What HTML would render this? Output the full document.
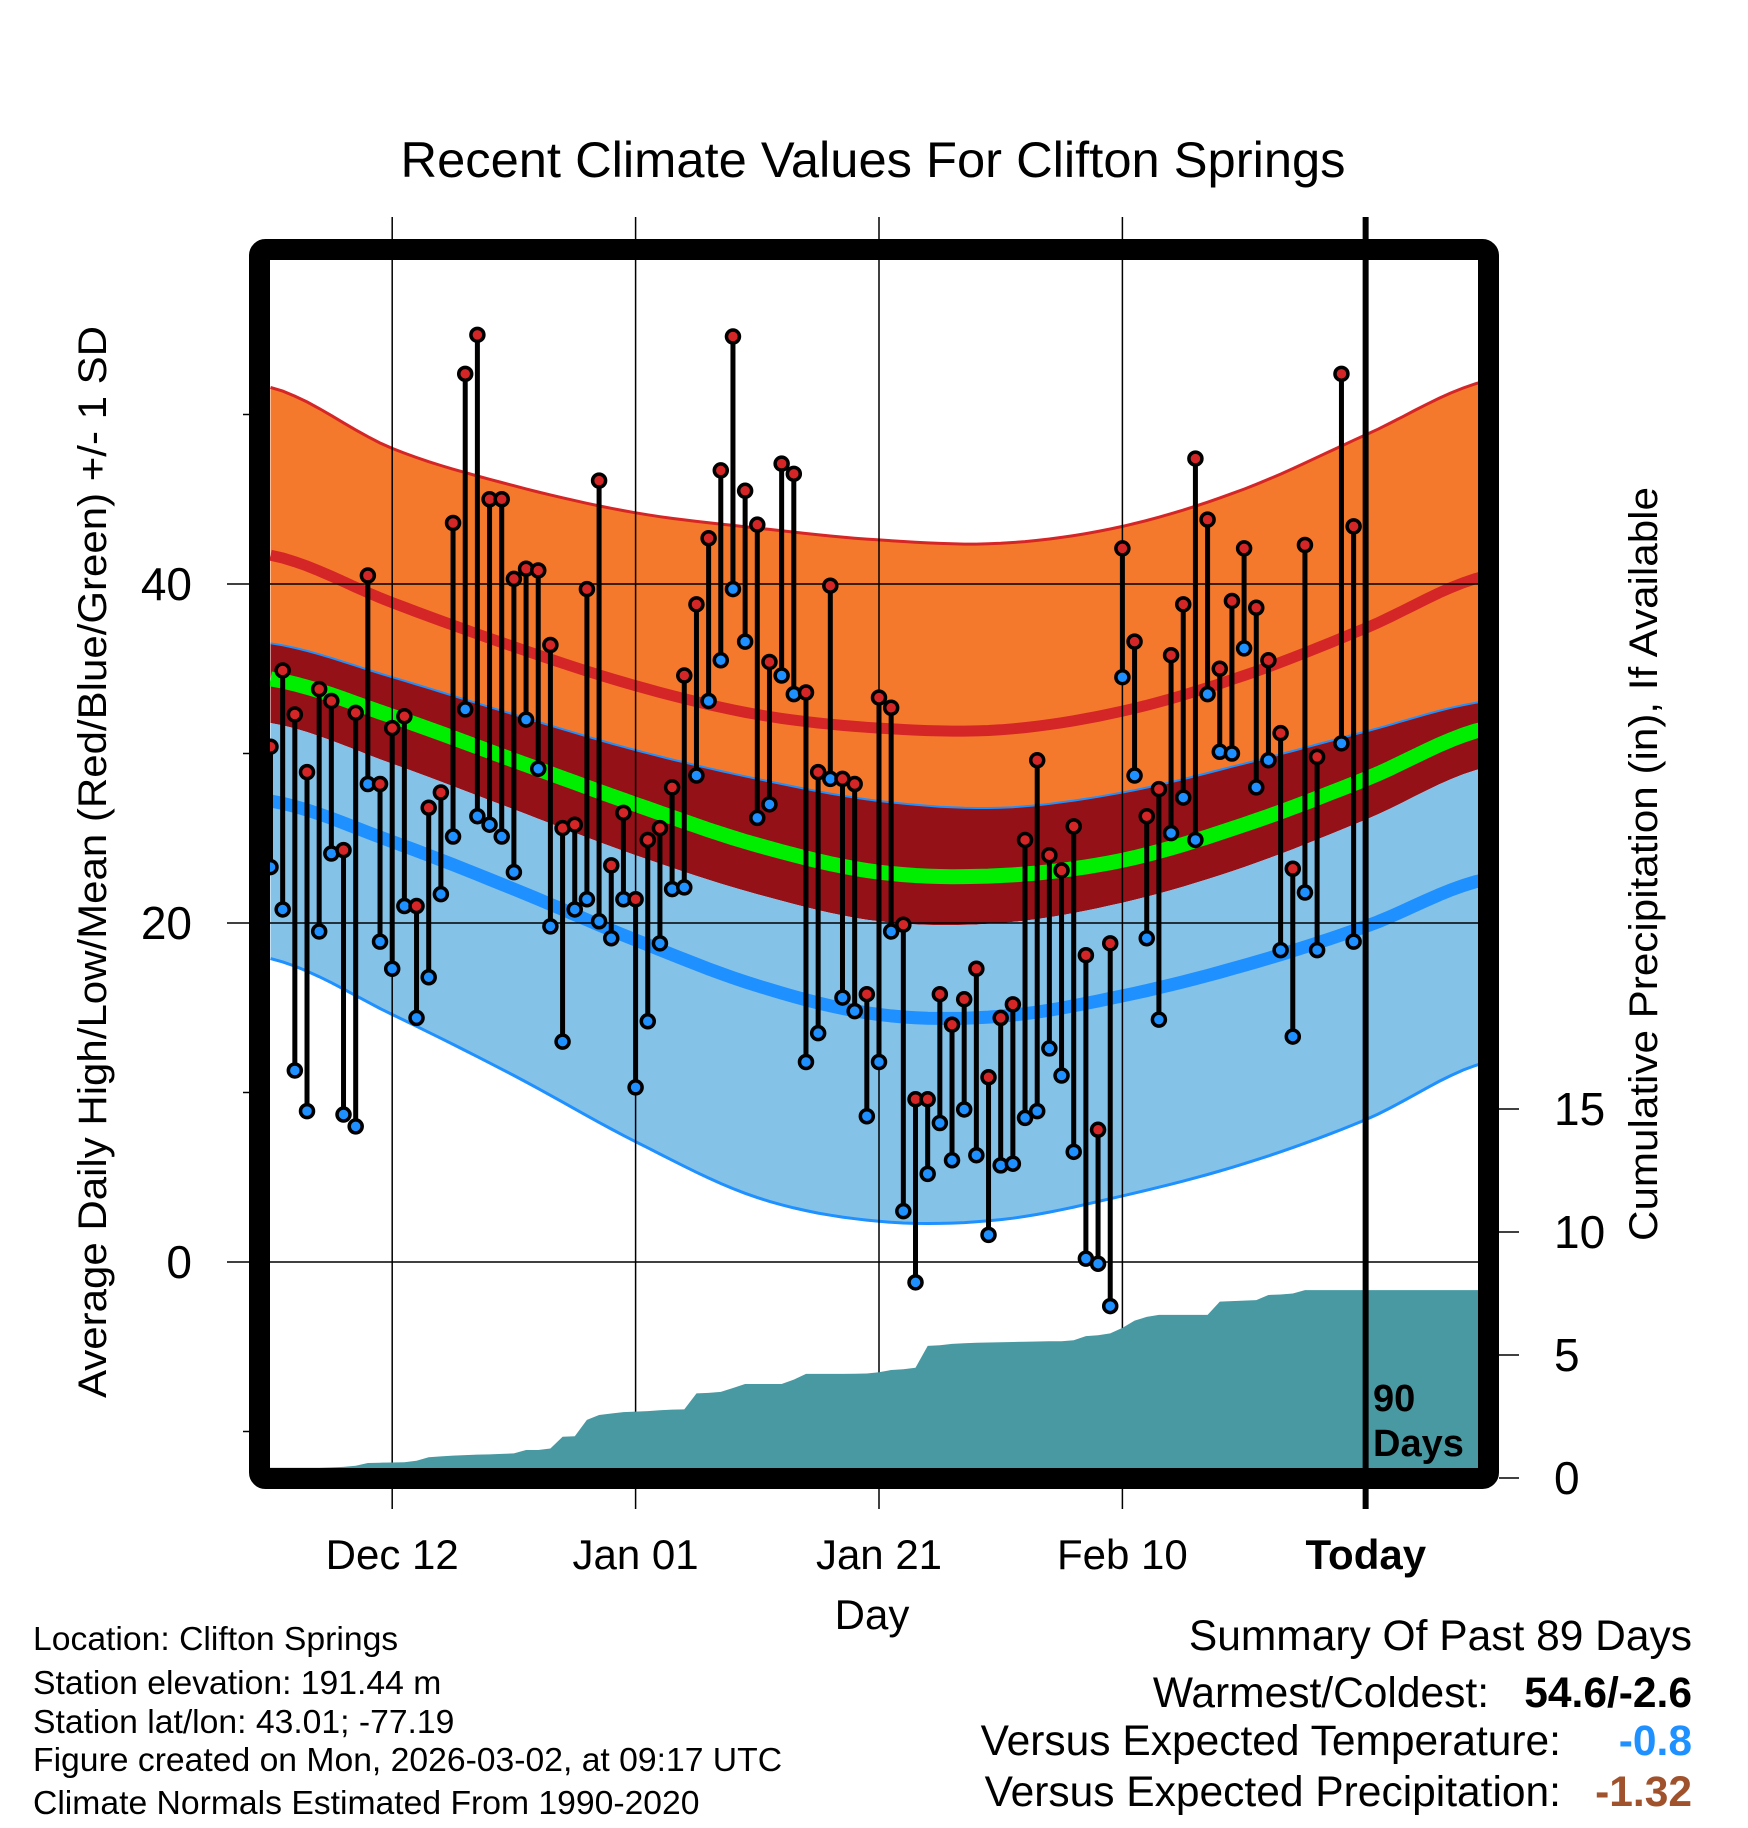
<!DOCTYPE html>
<html><head><meta charset="utf-8"><style>
html,body{margin:0;padding:0;background:#fff;}
svg{display:block;font-family:"Liberation Sans",sans-serif;}
</style></head><body>
<svg id="chart" width="1748" height="1828" viewBox="0 0 1748 1828" xmlns="http://www.w3.org/2000/svg">
<rect width="1748" height="1828" fill="#fff"/>
<defs><clipPath id="plotclip"><rect x="270" y="260" width="1208" height="1208"/></clipPath></defs>
<text x="873" y="177" font-size="50" text-anchor="middle" textLength="945" lengthAdjust="spacingAndGlyphs">Recent Climate Values For Clifton Springs</text>
<g id="bands" clip-path="url(#plotclip)"></g>
<g id="grid"></g>
<g id="precip" clip-path="url(#plotclip)"></g>
<g id="marks"></g>
<g id="frame"></g>
<g id="axes"></g>
<text transform="translate(106,862) rotate(-90)" font-size="40" text-anchor="middle" textLength="1072" lengthAdjust="spacingAndGlyphs">Average Daily High/Low/Mean (Red/Blue/Green) +/- 1 SD</text>
<text transform="translate(1657,864) rotate(-90)" font-size="40" text-anchor="middle" textLength="754" lengthAdjust="spacingAndGlyphs">Cumulative Precipitation (in), If Available</text>
<text x="872" y="1629" font-size="42" text-anchor="middle">Day</text>
<text x="1373" y="1411" font-size="38" font-weight="bold">90</text>
<text x="1373" y="1456" font-size="38" font-weight="bold">Days</text>
<g font-size="33.7">
<text x="33" y="1650">Location: Clifton Springs</text>
<text x="33" y="1694">Station elevation: 191.44 m</text>
<text x="33" y="1733">Station lat/lon: 43.01; -77.19</text>
<text x="33" y="1771">Figure created on Mon, 2026-03-02, at 09:17 UTC</text>
<text x="33" y="1814">Climate Normals Estimated From 1990-2020</text>
</g>
<g font-size="42.5">
<text x="1692" y="1650" text-anchor="end">Summary Of Past 89 Days</text>
<text x="1489" y="1707" text-anchor="end">Warmest/Coldest:</text>
<text x="1692" y="1707" text-anchor="end" font-weight="bold">54.6/-2.6</text>
<text x="1561" y="1755" text-anchor="end">Versus Expected Temperature:</text>
<text x="1692" y="1755" text-anchor="end" font-weight="bold" fill="#1E90FF">-0.8</text>
<text x="1561" y="1806" text-anchor="end">Versus Expected Precipitation:</text>
<text x="1692" y="1806" text-anchor="end" font-weight="bold" fill="#A0522D">-1.32</text>
</g>
</svg>
<script>
// daily highs / lows, Dec 2 .. Mar 1 (null = missing)
const highs = [30.4,34.9,32.3,28.9,33.8,33.1,24.3,32.4,40.5,28.2,31.5,32.2,21.0,26.8,27.7,43.6,52.4,54.7,45.0,45.0,40.3,40.9,40.8,36.4,25.6,25.8,39.7,46.1,23.4,26.5,21.4,24.9,25.6,28.0,34.6,38.8,42.7,46.7,54.6,45.5,43.5,35.4,47.1,46.5,33.6,28.9,39.9,28.5,28.2,15.8,33.3,32.7,19.9,9.6,9.6,15.8,14.0,15.5,17.3,10.9,14.4,15.2,24.9,29.6,24.0,23.1,25.7,18.1,7.8,18.8,42.1,36.6,26.3,27.9,35.8,38.8,47.4,43.8,35.0,39.0,42.1,38.6,35.5,31.2,23.2,42.3,29.8,null,52.4,43.4];
const lows = [23.3,20.8,11.3,8.9,19.5,24.1,8.7,8.0,28.2,18.9,17.3,21.0,14.4,16.8,21.7,25.1,32.6,26.3,25.8,25.1,23.0,32.0,29.1,19.8,13.0,20.8,21.4,20.1,19.1,21.4,10.3,14.2,18.8,22.0,22.1,28.7,33.1,35.5,39.7,36.6,26.2,27.0,34.6,33.5,11.8,13.5,28.5,15.6,14.8,8.6,11.8,19.5,3.0,-1.2,5.2,8.2,6.0,9.0,6.3,1.6,5.7,5.8,8.5,8.9,12.6,11.0,6.5,0.2,-0.1,-2.6,34.5,28.7,19.1,14.3,25.3,27.4,24.9,33.5,30.1,30.0,36.2,28.0,29.6,18.4,13.3,21.8,18.4,null,30.6,18.9];
// cumulative precipitation (in)
const precip = [0.42,0.42,0.42,0.42,0.42,0.43,0.45,0.5,0.61,0.62,0.63,0.64,0.7,0.84,0.88,0.91,0.93,0.95,0.96,0.98,1.0,1.14,1.14,1.2,1.68,1.7,2.36,2.56,2.62,2.68,2.7,2.72,2.75,2.78,2.79,3.44,3.46,3.5,3.66,3.82,3.82,3.82,3.82,4.0,4.23,4.23,4.23,4.23,4.24,4.25,4.3,4.39,4.42,4.48,5.37,5.4,5.45,5.48,5.5,5.51,5.52,5.53,5.54,5.55,5.56,5.56,5.6,5.77,5.8,5.88,6.1,6.4,6.55,6.63,6.63,6.63,6.63,6.63,7.17,7.19,7.21,7.23,7.44,7.46,7.5,7.64,7.64,7.64,7.64,7.64];
// normals, every 10 days from Dec 2 to Mar 12
const normDays = [0,10,20,30,40,50,60,70,80,90,100];
const highPlusSD = [51.6,48.0,45.8,44.2,43.3,42.6,42.4,43.4,45.6,48.8,52.0];
const meanHigh = [41.7,38.9,36.3,34.0,32.3,31.5,31.4,32.5,34.6,37.4,40.5];
const highMinusSD = [36.5,34.5,32.3,30.2,28.5,27.2,26.8,27.7,29.4,31.3,33.1];
const meanTemp = [34.4,32.2,29.6,27.0,24.6,23.0,22.8,23.7,25.8,28.5,31.5];
const lowPlusSD = [31.8,29.4,26.7,24.0,21.7,20.1,20.0,21.2,23.3,26.1,29.2];
const meanLow = [27.2,24.8,22.0,19.0,16.3,14.6,14.5,15.7,17.5,19.8,22.6];
const lowMinusSD = [17.9,14.6,11.0,7.1,3.8,2.4,2.5,3.9,5.8,8.4,11.8];
const xTickDays = [10,30,50,70,90];
const xTickLabels = ["Dec 12","Jan 01","Jan 21","Feb 10","Today"];
const yTicks = [0,20,40];
const yMinor = [-10,10,30,50];
const pTicks = [0,5,10,15];

const NS="http://www.w3.org/2000/svg";
const X0=270,X1=1478,Y0=260,Y1=1468;
const xs = d => 270.5 + 12.17*d;
const ys = t => 1262 - 16.95*t;
const yp = p => 1478 - 24.6*p;
function mk(tag, attrs, parent){const e=document.createElementNS(NS,tag);for(const k in attrs)e.setAttribute(k,attrs[k]);parent.appendChild(e);return e;}
function curve(arr){
  const pts=[];const n=normDays.length;
  for(let i=0;i<n-1;i++){
    const p0=arr[Math.max(i-1,0)],p1=arr[i],p2=arr[i+1],p3=arr[Math.min(i+2,n-1)];
    for(let s=0;s<10;s++){const t=s/10;
      const v=0.5*((2*p1)+(-p0+p2)*t+(2*p0-5*p1+4*p2-p3)*t*t+(-p0+3*p1-3*p2+p3)*t*t*t);
      pts.push([xs(normDays[i]+10*t),ys(v)]);}
  }
  pts.push([xs(normDays[n-1]),ys(arr[n-1])]);
  return pts;
}
const ptsStr = p => p.map(q=>q[0].toFixed(1)+","+q[1].toFixed(1)).join(" ");
function band(top,bot,fill,name){
  const a=curve(top),b=curve(bot).reverse();
  const e=mk('polygon',{points:ptsStr(a.concat(b)),fill:fill},document.getElementById('bands'));
  
  
}
function line(arr,color,w,name){
  const e=mk('polyline',{points:ptsStr(curve(arr)),fill:'none',stroke:color,'stroke-width':w},document.getElementById('bands'));
  
  
}
band(highPlusSD,highMinusSD,'#F5792C','high-sd-band');
band(highMinusSD,lowPlusSD,'#931117','overlap-band');
band(lowPlusSD,lowMinusSD,'#85C2E7','low-sd-band');
line(highPlusSD,'#D42626',3,'high-plus-sd-line');
line(highMinusSD,'#1E90FF',2,'high-minus-sd-line');
line(lowMinusSD,'#1E90FF',3,'low-minus-sd-line');
line(meanHigh,'#D42626',11,'mean-high-line');
line(meanTemp,'#00EE00',15,'mean-temp-line');
line(meanLow,'#1E90FF',13,'mean-low-line');

const grid=document.getElementById('grid');
xTickDays.forEach((d,i)=>{
  if(i<4){const g=mk('line',{x1:xs(d),x2:xs(d),y1:217,y2:1509,stroke:'#000','stroke-width':1.5},grid);
  
  }
  const t=mk('text',{x:xs(d),y:1569,'font-size':42,'text-anchor':'middle'},document.getElementById('axes'));
  if(i===4)t.setAttribute('font-weight','bold');
  t.textContent=xTickLabels[i];
  
  
});
yTicks.forEach(v=>{
  const g=mk('line',{x1:227,x2:X1,y1:ys(v),y2:ys(v),stroke:'#000','stroke-width':1.5},grid);
  
  
  const t=mk('text',{x:192,y:ys(v)+16,'font-size':46,'text-anchor':'end'},document.getElementById('axes'));
  t.textContent=v;
  
  
});
yMinor.forEach(v=>{
  const g=mk('line',{x1:243,x2:252,y1:ys(v),y2:ys(v),stroke:'#000','stroke-width':1.5},grid);
  
  
});

// precipitation area
{
  const p=[];precip.forEach((v,i)=>p.push([xs(i),yp(v)]));
  p.push([X1+5,yp(precip[precip.length-1])]);
  p.unshift([X0-5,yp(precip[0])]);
  const poly=p.concat([[X1+5,1480],[X0-5,1480]]);
  const e=mk('polygon',{points:ptsStr(poly),fill:'#4899A2'},document.getElementById('precip'));
  
  
}

// stems and dots
const marks=document.getElementById('marks');
highs.forEach((h,i)=>{
  const l=lows[i]; if(h===null||l===null)return;
  const s=mk('line',{x1:xs(i),x2:xs(i),y1:ys(h),y2:ys(l),stroke:'#000','stroke-width':5},marks);
  
  
});
highs.forEach((h,i)=>{
  const l=lows[i]; if(h===null||l===null)return;
  const a=mk('circle',{cx:xs(i),cy:ys(h),r:6.5,fill:'#D42626',stroke:'#000','stroke-width':3.5},marks);
  
  
  const b=mk('circle',{cx:xs(i),cy:ys(l),r:6.5,fill:'#1E90FF',stroke:'#000','stroke-width':3.5},marks);
  
  
});

// frame, today line, right axis
const frame=document.getElementById('frame');
{
  const f=mk('rect',{x:259.5,y:249.5,width:1229,height:1229,rx:6,fill:'none',stroke:'#000','stroke-width':21},frame);
  
  
  const t=mk('line',{x1:xs(89)+12,x2:xs(89)+12,y1:217,y2:1509,stroke:'#000','stroke-width':6},frame);
  
  
}
pTicks.forEach(v=>{
  const g=mk('line',{x1:1499,x2:1519,y1:yp(v),y2:yp(v),stroke:'#000','stroke-width':1.5},frame);
  
  
  const t=mk('text',{x:1554,y:yp(v)+16,'font-size':46},document.getElementById('axes'));
  t.textContent=v;
  
  
});
</script>
</body></html>
